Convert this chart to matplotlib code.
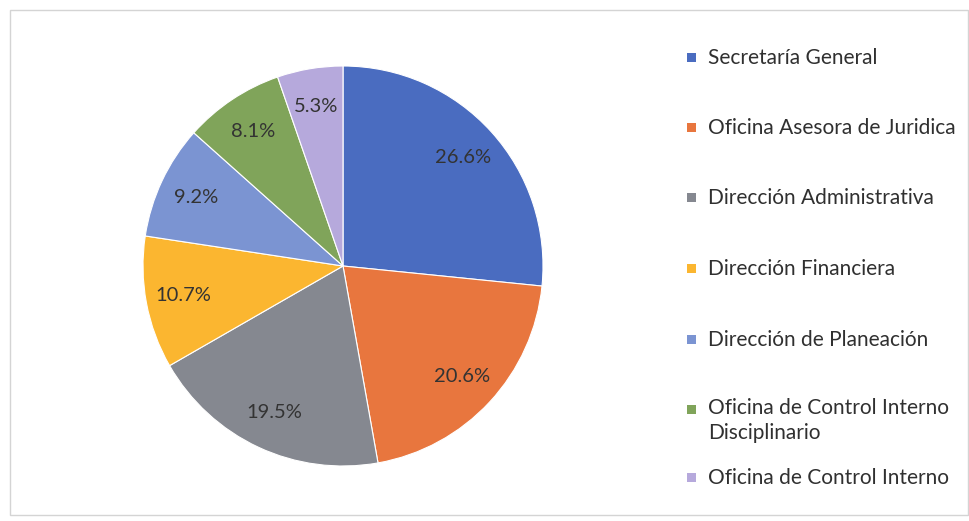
import matplotlib.pyplot as plt
from matplotlib.patches import Rectangle

# datos
areas = ["Secretaría General", "Oficina Asesora de Juridica", "Dirección Administrativa",
         "Dirección Financiera", "Dirección de Planeación",
         "Oficina de Control Interno\nDisciplinario", "Oficina de Control Interno"]
porcentajes = [26.6, 20.6, 19.5, 10.7, 9.2, 8.1, 5.3]
colores = ["#4a6cc0", "#e8763e", "#858890", "#fbb630", "#7b94d2", "#80a45a", "#b6a9dc"]

W, H = 970, 521
fig = plt.figure(figsize=(W / 100, H / 100), dpi=100)
plt.rcParams['font.family'] = ['Lato', 'DejaVu Sans']

# marco del grafico
fig.patches.append(Rectangle((10 / W, 6 / H), 958 / W, 505 / H, transform=fig.transFigure,
                             fill=False, edgecolor="#d4d4d4", linewidth=1))

cx, cy, r = 343, 266, 200
ax = fig.add_axes([(cx - r) / W, (H - cy - r) / H, 2 * r / W, 2 * r / H])
wedges, textos, autot = ax.pie(porcentajes, colors=colores, startangle=90, counterclock=False,
                               autopct="%.1f%%", pctdistance=0.81,
                               wedgeprops=dict(edgecolor="white", linewidth=0.8),
                               textprops=dict(color="#333333", fontsize=14.5))
ax.set_xlim(-1, 1)
ax.set_ylim(-1, 1)
ax.set_aspect("equal")

# leyenda a mano
ys = [58, 128, 198, 269, 340, 410, 478]
for y, lab, c in zip(ys, areas, colores):
    fig.patches.append(Rectangle((687 / W, (H - y - 4) / H), 9 / W, 9 / H,
                                 transform=fig.transFigure, facecolor=c, edgecolor="none"))
    if "\n" in lab:
        fig.text(708 / W, (H - y + 12) / H, lab, fontsize=15, color="#303030",
                 va="top", ha="left", linespacing=1.3)
    else:
        fig.text(708 / W, (H - y) / H, lab, fontsize=15, color="#303030",
                 va="center", ha="left")

fig.savefig("out.png", dpi=100)
